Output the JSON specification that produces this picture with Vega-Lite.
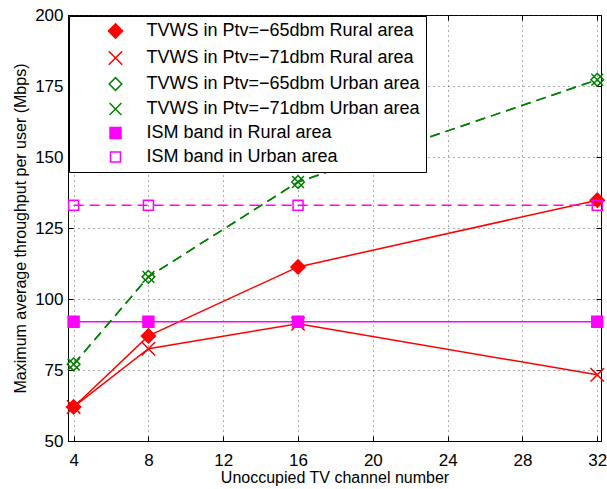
{
  "$schema": "https://vega.github.io/schema/vega-lite/v6.json",
  "width": 533,
  "height": 426,
  "autosize": "none",
  "padding": {"left": 68, "top": 15, "right": 6, "bottom": 48},
  "background": "white",
  "config": {
    "font": "Liberation Sans",
    "view": {"stroke": "black", "strokeWidth": 1},
    "axis": {
      "labelFont": "Liberation Sans", "labelFontSize": 17, "labelColor": "black",
      "titleFont": "Liberation Sans", "titleFontSize": 16, "titleFontWeight": "normal", "titleColor": "black",
      "domainColor": "black", "tickColor": "black",
      "gridColor": "#333333", "gridDash": [1, 4], "gridOpacity": 0.8, "gridWidth": 1
    }
  },
  "data": {
    "values": [
      {"series": "TVWS in Ptv=−65dbm Rural area", "dashed": false, "x": 4, "y": 62},
      {"series": "TVWS in Ptv=−65dbm Rural area", "dashed": false, "x": 8, "y": 87},
      {"series": "TVWS in Ptv=−65dbm Rural area", "dashed": false, "x": 16, "y": 111.3},
      {"series": "TVWS in Ptv=−65dbm Rural area", "dashed": false, "x": 32, "y": 134.8},
      {"series": "TVWS in Ptv=−71dbm Rural area", "dashed": false, "x": 4, "y": 62},
      {"series": "TVWS in Ptv=−71dbm Rural area", "dashed": false, "x": 8, "y": 82.5},
      {"series": "TVWS in Ptv=−71dbm Rural area", "dashed": false, "x": 16, "y": 91.3},
      {"series": "TVWS in Ptv=−71dbm Rural area", "dashed": false, "x": 32, "y": 73.3},
      {"series": "TVWS in Ptv=−65dbm Urban area", "dashed": true, "x": 4, "y": 77},
      {"series": "TVWS in Ptv=−65dbm Urban area", "dashed": true, "x": 8, "y": 107.8},
      {"series": "TVWS in Ptv=−65dbm Urban area", "dashed": true, "x": 16, "y": 141.2},
      {"series": "TVWS in Ptv=−65dbm Urban area", "dashed": true, "x": 32, "y": 177.2},
      {"series": "TVWS in Ptv=−71dbm Urban area", "dashed": true, "x": 4, "y": 77},
      {"series": "TVWS in Ptv=−71dbm Urban area", "dashed": true, "x": 8, "y": 107.8},
      {"series": "TVWS in Ptv=−71dbm Urban area", "dashed": true, "x": 16, "y": 141.2},
      {"series": "TVWS in Ptv=−71dbm Urban area", "dashed": true, "x": 32, "y": 177.2},
      {"series": "ISM band in Rural area", "dashed": false, "x": 4, "y": 92},
      {"series": "ISM band in Rural area", "dashed": false, "x": 8, "y": 92},
      {"series": "ISM band in Rural area", "dashed": false, "x": 16, "y": 92},
      {"series": "ISM band in Rural area", "dashed": false, "x": 32, "y": 92},
      {"series": "ISM band in Urban area", "dashed": true, "x": 4, "y": 133},
      {"series": "ISM band in Urban area", "dashed": true, "x": 8, "y": 133},
      {"series": "ISM band in Urban area", "dashed": true, "x": 16, "y": 133},
      {"series": "ISM band in Urban area", "dashed": true, "x": 32, "y": 133}
    ]
  },
  "layer": [
    {
      "transform": [{"filter": "!datum.dashed"}],
      "mark": {"type": "line", "strokeWidth": 1.5},
      "encoding": {
        "x": {"field": "x", "type": "quantitative", "title": "Unoccupied TV channel number",
          "scale": {"domain": [3.7, 32.2], "nice": false, "zero": false},
          "axis": {"values": [4, 8, 12, 16, 20, 24, 28, 32], "tickSize": -5, "labelPadding": 16, "titlePadding": 1, "grid": true}},
        "y": {"field": "y", "type": "quantitative", "title": "Maximum average throughput per user (Mbps)",
          "scale": {"domain": [50, 200], "nice": false, "zero": false},
          "axis": {"values": [50, 75, 100, 125, 150, 175, 200], "tickSize": -5, "labelPadding": 10, "titlePadding": 6, "grid": true}},
        "color": {"field": "series", "type": "nominal",
          "scale": {
            "domain": ["TVWS in Ptv=−65dbm Rural area", "TVWS in Ptv=−71dbm Rural area", "TVWS in Ptv=−65dbm Urban area", "TVWS in Ptv=−71dbm Urban area", "ISM band in Rural area", "ISM band in Urban area"],
            "range": ["#ff0000", "#ff0000", "#008000", "#008000", "#ff00ff", "#ff00ff"]},
          "legend": {
            "title": null, "orient": "top-left", "offset": 1, "padding": 6,
            "fillColor": "white", "strokeColor": "black",
            "labelFont": "Liberation Sans", "labelFontSize": 18, "labelColor": "black", "labelLimit": 400,
            "symbolSize": 196, "symbolOffset": 31.5, "labelOffset": 22, "rowPadding": 6,
            "encode": {
              "symbols": {
                "update": {
                  "shape": {"signal": "datum.value == 'TVWS in Ptv=−65dbm Rural area' ? 'M-3.33,0L3.33,0M0,-1L1,0L0,1L-1,0Z' : datum.value == 'TVWS in Ptv=−71dbm Rural area' ? 'M-3.33,0L3.33,0M-0.7,-0.7L0.7,0.7M-0.7,0.7L0.7,-0.7' : datum.value == 'TVWS in Ptv=−65dbm Urban area' ? 'M-3.3,0L-2.3,0M2.3,0L3.3,0M0,-0.9L0.9,0L0,0.9L-0.9,0Z' : datum.value == 'TVWS in Ptv=−71dbm Urban area' ? 'M-3.3,0L-2.3,0M2.3,0L3.3,0M-0.7,-0.7L0.7,0.7M-0.7,0.7L0.7,-0.7' : datum.value == 'ISM band in Rural area' ? 'M-3.33,0L3.33,0M-0.8,-0.8L0.8,-0.8L0.8,0.8L-0.8,0.8Z' : 'M-3.3,0L-2.3,0M2.3,0L3.3,0M-0.8,-0.8L0.8,-0.8L0.8,0.8L-0.8,0.8Z'"},
                  "stroke": {"signal": "indexof(datum.value, 'TVWS') == 0 ? (indexof(datum.value, 'Rural') > 0 ? '#ff0000' : '#008000') : '#ff00ff'"},
                  "fill": {"signal": "datum.value == 'TVWS in Ptv=−65dbm Rural area' ? '#ff0000' : datum.value == 'ISM band in Rural area' ? '#ff00ff' : 'transparent'"},
                  "size": {"value": 196},
                  "strokeWidth": {"value": 1.5},
                  "opacity": {"value": 1}
                }
              }
            }
          }
        }
      }
    },
    {
      "transform": [{"filter": "datum.dashed"}],
      "mark": {"type": "line", "strokeWidth": 1.5, "strokeDash": [10, 6]},
      "encoding": {
        "x": {"field": "x", "type": "quantitative", "axis": null},
        "y": {"field": "y", "type": "quantitative", "axis": null},
        "color": {"field": "series", "type": "nominal"}
      }
    },
    {
      "mark": {"type": "point", "filled": false, "strokeWidth": 1.5, "opacity": 1},
      "encoding": {
        "x": {"field": "x", "type": "quantitative",
          "axis": {"orient": "top", "values": [4, 8, 12, 16, 20, 24, 28, 32], "tickSize": -5, "labels": false, "domain": false, "grid": false, "title": null}},
        "y": {"field": "y", "type": "quantitative",
          "axis": {"orient": "right", "values": [50, 75, 100, 125, 150, 175, 200], "tickSize": -5, "labels": false, "domain": false, "grid": false, "title": null}},
        "color": {"field": "series", "type": "nominal"},
        "shape": {"field": "series", "type": "nominal", "legend": null,
          "scale": {
            "domain": ["TVWS in Ptv=−65dbm Rural area", "TVWS in Ptv=−71dbm Rural area", "TVWS in Ptv=−65dbm Urban area", "TVWS in Ptv=−71dbm Urban area", "ISM band in Rural area", "ISM band in Urban area"],
            "range": ["diamond", "M-1,-1L1,1M-1,1L1,-1", "diamond", "M-1,-1L1,1M-1,1L1,-1", "square", "square"]}},
        "fill": {"field": "series", "type": "nominal", "legend": null,
          "scale": {
            "domain": ["TVWS in Ptv=−65dbm Rural area", "TVWS in Ptv=−71dbm Rural area", "TVWS in Ptv=−65dbm Urban area", "TVWS in Ptv=−71dbm Urban area", "ISM band in Rural area", "ISM band in Urban area"],
            "range": ["#ff0000", "transparent", "transparent", "transparent", "#ff00ff", "transparent"]}},
        "size": {"field": "series", "type": "nominal", "legend": null,
          "scale": {
            "domain": ["TVWS in Ptv=−65dbm Rural area", "TVWS in Ptv=−71dbm Rural area", "TVWS in Ptv=−65dbm Urban area", "TVWS in Ptv=−71dbm Urban area", "ISM band in Rural area", "ISM band in Urban area"],
            "range": [200, 100, 150, 100, 120, 100]}}
      }
    }
  ],
  "resolve": {"axis": {"x": "independent", "y": "independent"}}
}
